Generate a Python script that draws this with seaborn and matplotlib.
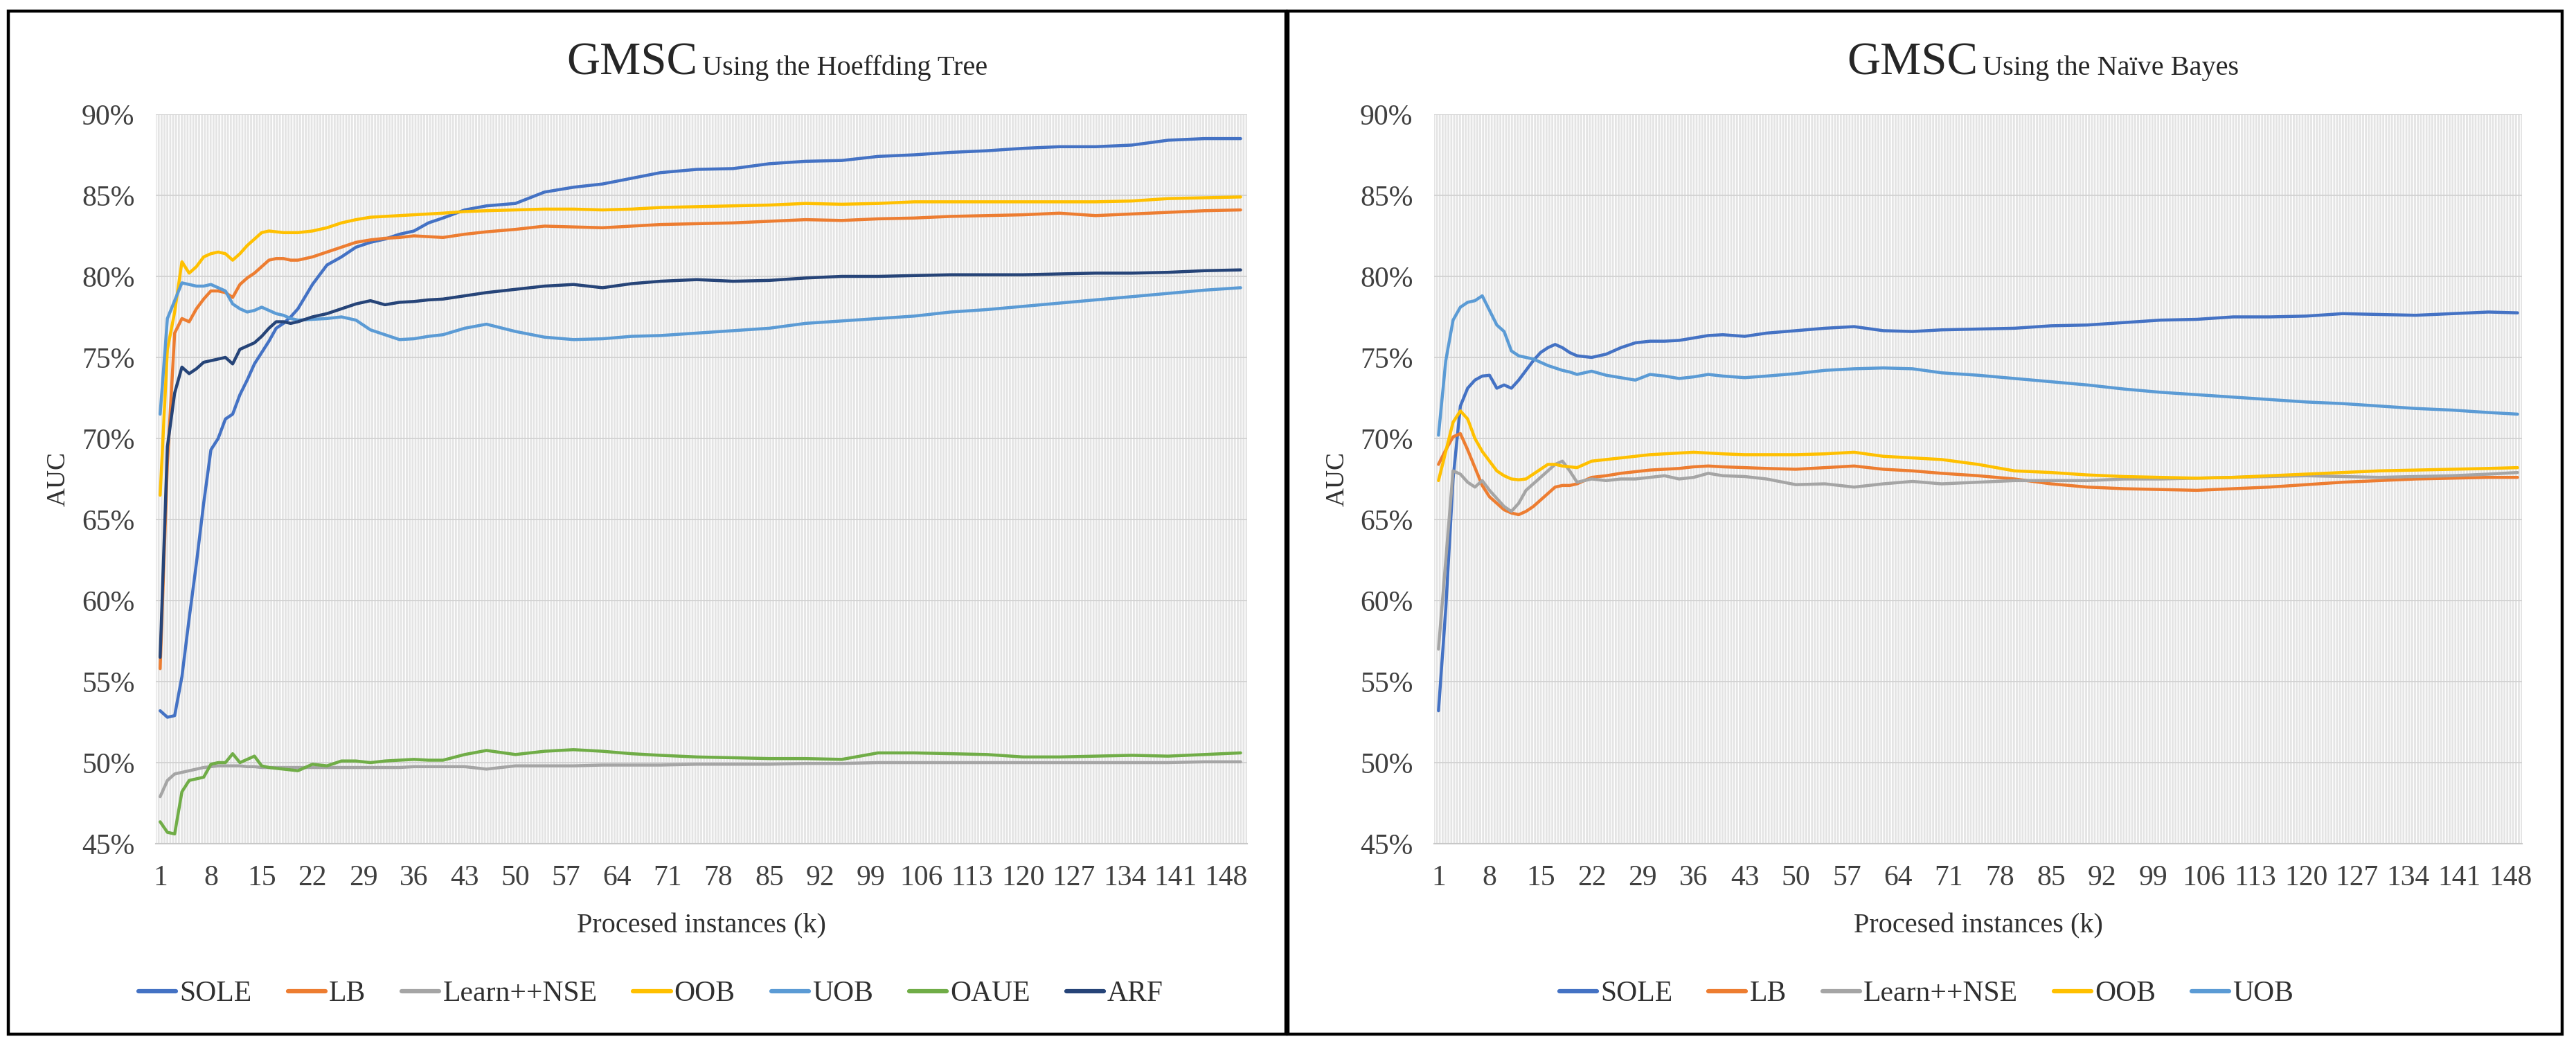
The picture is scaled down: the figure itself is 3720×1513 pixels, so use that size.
import matplotlib
matplotlib.use('Agg')
import matplotlib.pyplot as plt
import pandas as pd
import seaborn as sns
from matplotlib.lines import Line2D
from matplotlib.patches import Rectangle

K_LEFT = [1, 2, 3, 4, 5, 6, 7, 8, 9, 10, 11, 12, 13, 14, 15, 16, 17, 18, 19, 20,
          22, 24, 26, 28, 30, 32, 34, 36, 38, 40, 43, 46, 50, 54, 58, 62, 66, 70,
          75, 80, 85, 90, 95, 100, 105, 110, 115, 120, 125, 130, 135, 140, 145, 150]
K_RIGHT = K_LEFT[:-1] + [149]

# --- GMSC using the Hoeffding Tree (AUC %) ---
ht_sole = [53.2, 52.8, 52.9, 55.3, 58.9, 62.3, 66.0, 69.3, 70.0, 71.2, 71.5, 72.7, 73.6, 74.6, 75.3, 76.0, 76.8, 77.1, 77.5, 78.0,
           79.5, 80.7, 81.2, 81.8, 82.1, 82.3, 82.6, 82.8, 83.3, 83.6, 84.1, 84.35, 84.5, 85.2, 85.5, 85.7, 86.05, 86.4,
           86.6, 86.65, 86.95, 87.1, 87.15, 87.4, 87.5, 87.65, 87.75, 87.9, 88.0, 88.0, 88.1, 88.4, 88.5, 88.5]
ht_lb = [55.8, 68.5, 76.5, 77.4, 77.2, 78.0, 78.6, 79.1, 79.1, 79.0, 78.7, 79.5, 79.9, 80.2, 80.6, 81.0, 81.1, 81.1, 81.0, 81.0,
         81.2, 81.5, 81.8, 82.1, 82.25, 82.35, 82.4, 82.5, 82.45, 82.4, 82.6, 82.75, 82.9, 83.1, 83.05, 83.0, 83.1, 83.2,
         83.25, 83.3, 83.4, 83.5, 83.45, 83.55, 83.6, 83.7, 83.75, 83.8, 83.9, 83.75, 83.85, 83.95, 84.05, 84.1]
ht_nse = [47.9, 48.9, 49.3, 49.4, 49.5, 49.6, 49.7, 49.75, 49.8, 49.8, 49.8, 49.8, 49.75, 49.75, 49.7, 49.7, 49.7, 49.7, 49.7, 49.7,
          49.7, 49.7, 49.7, 49.7, 49.7, 49.7, 49.7, 49.75, 49.75, 49.75, 49.75, 49.6, 49.8, 49.8, 49.8, 49.85, 49.85, 49.85,
          49.9, 49.9, 49.9, 49.95, 49.95, 50.0, 50.0, 50.0, 50.0, 50.0, 50.0, 50.0, 50.0, 50.0, 50.05, 50.05]
ht_oob = [66.5, 75.5, 77.8, 80.9, 80.2, 80.6, 81.2, 81.4, 81.5, 81.4, 81.0, 81.4, 81.9, 82.3, 82.7, 82.8, 82.75, 82.7, 82.7, 82.7,
          82.8, 83.0, 83.3, 83.5, 83.65, 83.7, 83.75, 83.8, 83.85, 83.9, 84.0, 84.05, 84.1, 84.15, 84.15, 84.1, 84.15, 84.25,
          84.3, 84.35, 84.4, 84.5, 84.45, 84.5, 84.6, 84.6, 84.6, 84.6, 84.6, 84.6, 84.65, 84.8, 84.85, 84.9]
ht_uob = [71.5, 77.4, 78.5, 79.6, 79.5, 79.4, 79.4, 79.5, 79.3, 79.1, 78.3, 78.0, 77.8, 77.9, 78.1, 77.9, 77.7, 77.6, 77.4, 77.3,
          77.35, 77.4, 77.5, 77.3, 76.7, 76.4, 76.1, 76.15, 76.3, 76.4, 76.8, 77.05, 76.6, 76.25, 76.1, 76.15, 76.3, 76.35,
          76.5, 76.65, 76.8, 77.1, 77.25, 77.4, 77.55, 77.8, 77.95, 78.15, 78.35, 78.55, 78.75, 78.95, 79.15, 79.3]
ht_oaue = [46.35, 45.7, 45.6, 48.2, 48.9, 49.0, 49.1, 49.9, 50.0, 50.0, 50.55, 50.0, 50.2, 50.4, 49.8, 49.7, 49.65, 49.6, 49.55, 49.5,
           49.9, 49.8, 50.1, 50.1, 50.0, 50.1, 50.15, 50.2, 50.15, 50.15, 50.5, 50.75, 50.5, 50.7, 50.8, 50.7, 50.55, 50.45,
           50.35, 50.3, 50.25, 50.25, 50.2, 50.6, 50.6, 50.55, 50.5, 50.35, 50.35, 50.4, 50.45, 50.4, 50.5, 50.6]
ht_arf = [56.5, 69.5, 72.8, 74.4, 74.0, 74.3, 74.7, 74.8, 74.9, 75.0, 74.6, 75.5, 75.7, 75.9, 76.3, 76.8, 77.2, 77.2, 77.1, 77.2,
          77.5, 77.7, 78.0, 78.3, 78.5, 78.25, 78.4, 78.45, 78.55, 78.6, 78.8, 79.0, 79.2, 79.4, 79.5, 79.3, 79.55, 79.7,
          79.8, 79.7, 79.75, 79.9, 80.0, 80.0, 80.05, 80.1, 80.1, 80.1, 80.15, 80.2, 80.2, 80.25, 80.35, 80.4]

# --- GMSC using the Naive Bayes (AUC %) ---
nb_sole = [53.2, 59.5, 67.5, 72.0, 73.1, 73.6, 73.85, 73.9, 73.1, 73.3, 73.1, 73.6, 74.2, 74.8, 75.3, 75.6, 75.8, 75.6, 75.3, 75.1,
           75.0, 75.2, 75.6, 75.9, 76.0, 76.0, 76.05, 76.2, 76.35, 76.4, 76.3, 76.5, 76.65, 76.8, 76.9, 76.65, 76.6, 76.7,
           76.75, 76.8, 76.95, 77.0, 77.15, 77.3, 77.35, 77.5, 77.5, 77.55, 77.7, 77.65, 77.6, 77.7, 77.8, 77.75]
nb_lb = [68.4, 69.3, 70.1, 70.3, 69.3, 68.2, 67.1, 66.4, 66.0, 65.6, 65.4, 65.3, 65.5, 65.8, 66.2, 66.6, 67.0, 67.1, 67.1, 67.2,
         67.6, 67.7, 67.85, 67.95, 68.05, 68.1, 68.15, 68.25, 68.3, 68.25, 68.2, 68.15, 68.1, 68.2, 68.3, 68.1, 68.0, 67.85,
         67.7, 67.5, 67.2, 67.0, 66.9, 66.85, 66.8, 66.9, 67.0, 67.15, 67.3, 67.4, 67.5, 67.55, 67.6, 67.6]
nb_nse = [57.0, 62.5, 68.0, 67.8, 67.3, 67.0, 67.4, 66.8, 66.3, 65.8, 65.5, 66.0, 66.8, 67.2, 67.6, 68.0, 68.4, 68.6, 68.0, 67.3,
          67.5, 67.4, 67.5, 67.5, 67.6, 67.7, 67.5, 67.6, 67.85, 67.7, 67.65, 67.5, 67.15, 67.2, 67.0, 67.2, 67.35, 67.2,
          67.3, 67.4, 67.4, 67.4, 67.5, 67.5, 67.55, 67.6, 67.65, 67.7, 67.65, 67.6, 67.65, 67.7, 67.8, 67.9]
nb_oob = [67.4, 69.2, 71.0, 71.7, 71.2, 70.0, 69.2, 68.6, 68.0, 67.7, 67.5, 67.45, 67.5, 67.8, 68.1, 68.4, 68.4, 68.3, 68.25, 68.2,
          68.6, 68.7, 68.8, 68.9, 69.0, 69.05, 69.1, 69.15, 69.1, 69.05, 69.0, 69.0, 69.0, 69.05, 69.15, 68.9, 68.8, 68.7,
          68.4, 68.0, 67.9, 67.75, 67.65, 67.6, 67.55, 67.6, 67.7, 67.8, 67.9, 68.0, 68.05, 68.1, 68.15, 68.2]
nb_uob = [70.2, 74.8, 77.3, 78.1, 78.4, 78.5, 78.8, 77.9, 77.0, 76.6, 75.4, 75.1, 75.0, 74.9, 74.7, 74.5, 74.35, 74.2, 74.1, 73.95,
          74.15, 73.9, 73.75, 73.6, 73.95, 73.85, 73.7, 73.8, 73.95, 73.85, 73.75, 73.85, 74.0, 74.2, 74.3, 74.35, 74.3, 74.05,
          73.9, 73.7, 73.5, 73.3, 73.05, 72.85, 72.7, 72.55, 72.4, 72.25, 72.15, 72.0, 71.85, 71.75, 71.6, 71.5]

ht_names = ['SOLE', 'LB', 'Learn++NSE', 'OOB', 'UOB', 'OAUE', 'ARF']
nb_names = ['SOLE', 'LB', 'Learn++NSE', 'OOB', 'UOB']
colors = {'SOLE': '#4472C4', 'LB': '#ED7D31', 'Learn++NSE': '#A5A5A5', 'OOB': '#FFC000',
          'UOB': '#5B9BD5', 'OAUE': '#70AD47', 'ARF': '#264478'}

sns.set_theme(style='white')
plt.rcParams['font.family'] = ['Liberation Serif', 'DejaVu Serif']
plt.rcParams['hatch.color'] = '#f6f6f6'
plt.rcParams['hatch.linewidth'] = 1.0

W, H = 3720, 1513
fig = plt.figure(figsize=(W / 100, H / 100), dpi=100)
fig.patch.set_facecolor('white')


def long_df(k, names, values):
    parts = [pd.DataFrame({'k': k, 'AUC': v, 'method': n}) for n, v in zip(names, values)]
    return pd.concat(parts, ignore_index=True)


def draw_panel(rect, k, names, values, xmax, frame, sub, title_x, legend_x):
    ax = fig.add_axes(rect)
    ax.set_facecolor('#e4e4e4')
    ax.add_patch(Rectangle((0, 0), 1, 1, transform=ax.transAxes, fill=False,
                           hatch='||||', lw=0, zorder=0))
    df = long_df(k, names, values)
    sns.lineplot(data=df, x='k', y='AUC', hue='method', hue_order=names,
                 palette=colors, linewidth=3.2, estimator=None, legend=False, ax=ax)
    ax.set_xlim(0.4, xmax)
    ax.set_ylim(45, 90)
    ax.set_yticks(range(45, 91, 5))
    ax.set_yticklabels([f'{v}%' for v in range(45, 91, 5)])
    ax.set_xticks(range(1, 149, 7))
    ax.grid(axis='y', color='#d2d2d2', lw=1.3)
    ax.grid(axis='x', visible=False)
    for s in ['top', 'left', 'right']:
        ax.spines[s].set_visible(False)
    ax.spines['bottom'].set_color('#c8c8c8')
    ax.spines['bottom'].set_linewidth(1.5)
    ax.tick_params(axis='both', length=0, labelsize=30, colors='#404040')
    ax.tick_params(axis='y', pad=22)
    ax.tick_params(axis='x', pad=22)
    ax.set_xlabel('Procesed instances (k)', fontsize=29, color='#303030')
    ax.set_ylabel('AUC', fontsize=27, color='#303030')
    ax.xaxis.set_label_coords(0.5, -0.095)
    ax.yaxis.set_label_coords(-0.078, 0.5)

    # panel frame
    x0, y0, x1, y1 = frame
    fig.add_artist(Rectangle((x0 / W, 1 - y1 / H), (x1 - x0) / W, (y1 - y0) / H,
                             transform=fig.transFigure, fill=False, lw=3.2, edgecolor='black'))

    # title: large "GMSC" followed by a smaller subtitle on the same baseline
    t = fig.text(title_x / W, 1 - 108 / H, 'GMSC', fontsize=48, color='#262626', va='baseline')
    fig.canvas.draw()
    bb = t.get_window_extent(renderer=fig.canvas.get_renderer())
    fig.text(bb.x1 / W + 0.002, 1 - 108 / H, sub, fontsize=29, color='#262626', va='baseline')

    handles = [Line2D([], [], color=colors[n], lw=4.5) for n in names]
    fig.legend(handles, names, loc='center', bbox_to_anchor=(legend_x / W, 1 - 1435 / H),
               ncol=len(names), frameon=False, fontsize=30, handlelength=1.3,
               handletextpad=0.12, columnspacing=1.25, labelcolor='#303030')
    return ax


draw_panel([225 / W, 1 - 1218 / H, 1576 / W, 1053 / H], K_LEFT, ht_names,
           [ht_sole, ht_lb, ht_nse, ht_oob, ht_uob, ht_oaue, ht_arf], 150.9,
           (12, 16, 1857, 1493), 'Using the Hoeffding Tree', 818, 940)
draw_panel([2071 / W, 1 - 1218 / H, 1571 / W, 1053 / H], K_RIGHT, nb_names,
           [nb_sole, nb_lb, nb_nse, nb_oob, nb_uob], 149.6,
           (1860, 16, 3700, 1493), 'Using the Na\u00efve Bayes', 2667, 2782)

fig.savefig('out.png', dpi=100, facecolor='white')
